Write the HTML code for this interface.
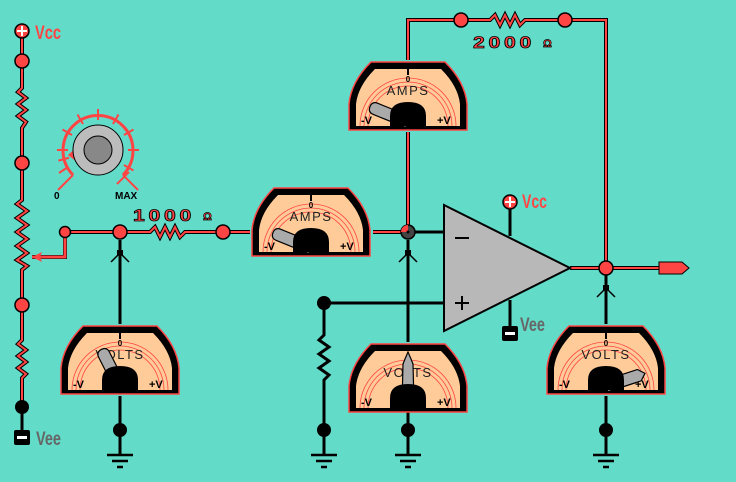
<!DOCTYPE html>
<html><head><meta charset="utf-8"><style>
html,body{margin:0;padding:0;background:#63dbc9;}
svg{display:block;}
text{font-family:"Liberation Sans",sans-serif;}
</style></head><body>
<svg width="736" height="482" viewBox="0 0 736 482" xmlns="http://www.w3.org/2000/svg">
<defs>
<clipPath id="mc"><path d="M9,66 L9,44 Q11,26 28,9 L94,9 Q111,26 113,44 L113,66 Z"/></clipPath>
</defs>
<rect width="736" height="482" fill="#63dbc9"/>

<g stroke="#000" stroke-width="3" fill="none">
<line x1="120" y1="240" x2="120" y2="324"/>
<line x1="120" y1="396" x2="120" y2="455"/>
<line x1="408" y1="240" x2="408" y2="342"/>
<line x1="408" y1="232" x2="444" y2="232"/>
<line x1="408" y1="412" x2="408" y2="455"/>
<line x1="606" y1="275" x2="606" y2="324"/>
<line x1="606" y1="396" x2="606" y2="455"/>
<line x1="324" y1="303" x2="444" y2="303"/>
<polyline points="324,303 324,335 319,340 329,347 319,354 329,361 319,368 329,375 324,380 324,455"/>
<line x1="510" y1="208" x2="510" y2="236"/>
<line x1="510" y1="300" x2="510" y2="326"/>
<line x1="22" y1="407" x2="22" y2="432"/>
</g>
<g stroke="#000" stroke-width="1.5" fill="none">
<path d="M111,262 L120,253 L129,262"/><path d="M399,262 L408,253 L417,262"/><path d="M597,297 L606,288 L615,297"/>
</g>
<g fill="#000"><rect x="117" y="250" width="6" height="5"/><rect x="405" y="250" width="6" height="5"/><rect x="603" y="285" width="6" height="5"/></g>

<g stroke="#000" stroke-width="2.5">
<g><line x1="107" y1="455" x2="133" y2="455"/><line x1="112" y1="461" x2="128" y2="461"/><line x1="117" y1="467" x2="123" y2="467"/></g>
<g><line x1="311" y1="455" x2="337" y2="455"/><line x1="316" y1="461" x2="332" y2="461"/><line x1="321" y1="467" x2="327" y2="467"/></g>
<g><line x1="395" y1="455" x2="421" y2="455"/><line x1="400" y1="461" x2="416" y2="461"/><line x1="405" y1="467" x2="411" y2="467"/></g>
<g><line x1="593" y1="455" x2="619" y2="455"/><line x1="598" y1="461" x2="614" y2="461"/><line x1="603" y1="467" x2="609" y2="467"/></g>
</g>

<g fill="none" stroke-linejoin="miter">
<g stroke="#000" stroke-width="4">
<polyline points="22,31 22,88 18,92 26,98 18,104 26,110 18,116 26,122 22,128 22,200 17,204 27,211 17,218 27,225 17,232 27,239 17,246 27,253 17,260 27,266 22,270 22,340 18,344 26,350 18,356 26,362 18,368 26,374 22,378 22,407"/>
<polyline points="65,232 150,232 155,227 160,237 165,227 170,237 175,227 180,237 185,232 250,232"/>
<line x1="373" y1="232" x2="408" y2="232"/>
<polyline points="408,60 408,20 490,20 495,15 500,25 505,15 510,25 515,15 520,25 525,20 606,20 606,268"/>
<line x1="408" y1="132" x2="408" y2="232"/>
<line x1="570" y1="268" x2="662" y2="268"/>
<polyline points="65,232 65,257 32,257"/>
</g>
<g stroke="#ff4444" stroke-width="2">
<polyline points="22,31 22,88 18,92 26,98 18,104 26,110 18,116 26,122 22,128 22,200 17,204 27,211 17,218 27,225 17,232 27,239 17,246 27,253 17,260 27,266 22,270 22,340 18,344 26,350 18,356 26,362 18,368 26,374 22,378 22,404"/>
<polyline points="65,232 150,232 155,227 160,237 165,227 170,237 175,227 180,237 185,232 250,232"/>
<line x1="373" y1="232" x2="406" y2="232"/>
<polyline points="408,60 408,20 490,20 495,15 500,25 505,15 510,25 515,15 520,25 525,20 606,20 606,268"/>
<line x1="408" y1="132" x2="408" y2="230"/>
<line x1="570" y1="268" x2="662" y2="268"/>
</g>
<polyline points="65,232 65,257 32,257" stroke="#ff4444" stroke-width="3"/>
<path d="M32,257 L42,252 L40,257 L42,262 Z" fill="#ff4444"/>
</g>

<path d="M659,262 L682,262 L689,268 L682,274 L659,274 Z" fill="#ff4444" stroke="#000" stroke-width="1"/>

<g fill="#ff4444" stroke="#000" stroke-width="1.5">
<circle cx="22" cy="61" r="7"/><circle cx="22" cy="163" r="7"/><circle cx="22" cy="305" r="7"/>
<circle cx="65" cy="232" r="5.5"/><circle cx="120" cy="232" r="7"/><circle cx="223" cy="232" r="7"/>
<circle cx="461" cy="20" r="7"/><circle cx="565" cy="20" r="7"/><circle cx="606" cy="268" r="7"/>
</g>
<circle cx="408" cy="232" r="7" fill="#444" stroke="#000" stroke-width="1.5"/>
<path d="M401,232 A7,7 0 0 1 408,225 L408,232 Z" fill="#ff4444"/>
<circle cx="408" cy="232" r="1.5" fill="#000"/>
<g fill="#000">
<circle cx="22" cy="407" r="7"/><circle cx="120" cy="430" r="7"/><circle cx="324" cy="303" r="7"/>
<circle cx="324" cy="430" r="7"/><circle cx="408" cy="430" r="7"/><circle cx="606" cy="430" r="7"/>
</g>

<g>
<circle cx="22" cy="31" r="7" fill="#ff4444" stroke="#000" stroke-width="1.5"/>
<path d="M17,31 H27 M22,26 V36" stroke="#fff" stroke-width="2"/>
<text x="35" y="39" fill="#ff4444" font-size="19" font-weight="bold" textLength="26" lengthAdjust="spacingAndGlyphs">Vcc</text>
<rect x="14" y="430" width="16" height="15" rx="2" fill="#000"/><rect x="17" y="436" width="10" height="3" fill="#fff"/>
<text x="36" y="445" fill="#666" font-size="19" font-weight="bold" textLength="25" lengthAdjust="spacingAndGlyphs">Vee</text>

<circle cx="510" cy="202" r="7" fill="#ff4444" stroke="#000" stroke-width="1.5"/>
<path d="M505,202 H515 M510,197 V207" stroke="#fff" stroke-width="2"/>
<text x="522" y="208" fill="#ff4444" font-size="19" font-weight="bold" textLength="25" lengthAdjust="spacingAndGlyphs">Vcc</text>
<rect x="502" y="326" width="16" height="15" rx="2" fill="#000"/><rect x="505" y="332" width="10" height="3" fill="#fff"/>
<text x="520" y="331" fill="#666" font-size="19" font-weight="bold" textLength="25" lengthAdjust="spacingAndGlyphs">Vee</text>
</g>

<path d="M444,205 L570,268 L444,331 Z" fill="#b8b8b8" stroke="#000" stroke-width="2"/>
<path d="M455,238 H469 M455,303 H469 M462,296 V310" stroke="#000" stroke-width="2"/>

<g font-size="17" font-weight="bold" fill="#ff4444" stroke="#000" stroke-width="0.8" letter-spacing="3">
<text x="133" y="221" textLength="62" lengthAdjust="spacingAndGlyphs">1000</text>
<text x="473" y="48" textLength="62" lengthAdjust="spacingAndGlyphs">2000</text>
</g>
<g fill="#ff4444" stroke="#000" stroke-width="0.7" font-size="11" font-weight="bold">
<text x="203" y="220">Ω</text><text x="543" y="47">Ω</text>
</g>

<!-- knob -->
<g>
<path d="M73,175 A35,35 0 1 1 123,175" fill="none" stroke="#ff4444" stroke-width="3"/>
<g stroke="#ff4444" stroke-width="2" transform="translate(98,150)">
<line x1="-30" y1="17" x2="-39" y2="23" transform="rotate(0)"/>
<line x1="-30" y1="0" x2="-41" y2="0"/>
<line x1="-30" y1="0" x2="-41" y2="0" transform="rotate(30)"/>
<line x1="-30" y1="0" x2="-41" y2="0" transform="rotate(60)"/>
<line x1="-30" y1="0" x2="-41" y2="0" transform="rotate(90)"/>
<line x1="-30" y1="0" x2="-41" y2="0" transform="rotate(120)"/>
<line x1="-30" y1="0" x2="-41" y2="0" transform="rotate(150)"/>
<line x1="-30" y1="0" x2="-41" y2="0" transform="rotate(180)"/>
<line x1="-30" y1="0" x2="-41" y2="0" transform="rotate(210)"/>
<line x1="-30" y1="0" x2="-41" y2="0" transform="rotate(-15)"/>
</g>
<g stroke="#ff4444" stroke-width="2">
<line x1="58" y1="190" x2="73" y2="175"/><line x1="138" y1="190" x2="123" y2="175"/>
<line x1="117" y1="184" x2="129" y2="172"/>
</g>
<path d="M68,155 L80,144 L82,166 Z" fill="#ff4444"/>
<circle cx="98" cy="150" r="25" fill="#bcbcbc" stroke="#000" stroke-width="1"/>
<circle cx="98" cy="150" r="14" fill="#888" stroke="#000" stroke-width="1"/>
<text x="54" y="199" font-size="10" font-weight="bold" fill="#000">0</text>
<text x="115" y="199" font-size="10" font-weight="bold" fill="#000">MAX</text>
</g>

<!-- meters -->
<g transform="translate(347,60)">
<path d="M2,70 L2,44 Q4,22 24,2 L98,2 Q118,22 120,44 L120,70 Z" fill="#000" stroke="#ff4444" stroke-width="1.5"/>
<path d="M9,66 L9,44 Q11,26 28,9 L94,9 Q111,26 113,44 L113,66 Z" fill="#ffcc99"/>
<g clip-path="url(#mc)" fill="none" stroke="#ff4444" stroke-width="0.8"><circle cx="61" cy="66" r="40"/><circle cx="61" cy="66" r="44"/><circle cx="61" cy="66" r="48"/></g>
<rect x="60" y="8" width="2" height="7" fill="#000"/><text x="61" y="22" font-size="8" text-anchor="middle" font-weight="bold">0</text>
<text x="61" y="35" font-size="13" text-anchor="middle" letter-spacing="1.5" fill="#222">AMPS</text>
<text x="14" y="64" font-size="11" font-weight="bold">-V</text><text x="90" y="64" font-size="11" font-weight="bold">+V</text>
<path d="M55,62 L55,27 Q55,21 61,21 Q67,21 67,27 L67,62 Z" fill="#aaa" stroke="#000" stroke-width="1.2" transform="rotate(-68,61,62)"/>
<path d="M43,66 L43,56 Q43,42 61,42 Q79,42 79,56 L79,66 Z" fill="#000"/>
</g>
<g transform="translate(250,186)">
<path d="M2,70 L2,44 Q4,22 24,2 L98,2 Q118,22 120,44 L120,70 Z" fill="#000" stroke="#ff4444" stroke-width="1.5"/>
<path d="M9,66 L9,44 Q11,26 28,9 L94,9 Q111,26 113,44 L113,66 Z" fill="#ffcc99"/>
<g clip-path="url(#mc)" fill="none" stroke="#ff4444" stroke-width="0.8"><circle cx="61" cy="66" r="40"/><circle cx="61" cy="66" r="44"/><circle cx="61" cy="66" r="48"/></g>
<rect x="60" y="8" width="2" height="7" fill="#000"/><text x="61" y="22" font-size="8" text-anchor="middle" font-weight="bold">0</text>
<text x="61" y="35" font-size="13" text-anchor="middle" letter-spacing="1.5" fill="#222">AMPS</text>
<text x="14" y="64" font-size="11" font-weight="bold">-V</text><text x="90" y="64" font-size="11" font-weight="bold">+V</text>
<path d="M55,62 L55,27 Q55,21 61,21 Q67,21 67,27 L67,62 Z" fill="#aaa" stroke="#000" stroke-width="1.2" transform="rotate(-68,61,62)"/>
<path d="M43,66 L43,56 Q43,42 61,42 Q79,42 79,56 L79,66 Z" fill="#000"/>
</g>
<g transform="translate(59,324)">
<path d="M2,70 L2,44 Q4,22 24,2 L98,2 Q118,22 120,44 L120,70 Z" fill="#000" stroke="#ff4444" stroke-width="1.5"/>
<path d="M9,66 L9,44 Q11,26 28,9 L94,9 Q111,26 113,44 L113,66 Z" fill="#ffcc99"/>
<g clip-path="url(#mc)" fill="none" stroke="#ff4444" stroke-width="0.8"><circle cx="61" cy="66" r="40"/><circle cx="61" cy="66" r="44"/><circle cx="61" cy="66" r="48"/></g>
<rect x="60" y="8" width="2" height="7" fill="#000"/><text x="61" y="22" font-size="8" text-anchor="middle" font-weight="bold">0</text>
<text x="61" y="35" font-size="13" text-anchor="middle" letter-spacing="1.5" fill="#222">VOLTS</text>
<text x="14" y="64" font-size="11" font-weight="bold">-V</text><text x="90" y="64" font-size="11" font-weight="bold">+V</text>
<path d="M55,62 L55,27 Q55,21 61,21 Q67,21 67,27 L67,62 Z" fill="#aaa" stroke="#000" stroke-width="1.2" transform="rotate(-27,61,62)"/>
<path d="M43,66 L43,56 Q43,42 61,42 Q79,42 79,56 L79,66 Z" fill="#000"/>
</g>
<g transform="translate(347,342)">
<path d="M2,70 L2,44 Q4,22 24,2 L98,2 Q118,22 120,44 L120,70 Z" fill="#000" stroke="#ff4444" stroke-width="1.5"/>
<path d="M9,66 L9,44 Q11,26 28,9 L94,9 Q111,26 113,44 L113,66 Z" fill="#ffcc99"/>
<g clip-path="url(#mc)" fill="none" stroke="#ff4444" stroke-width="0.8"><circle cx="61" cy="66" r="40"/><circle cx="61" cy="66" r="44"/><circle cx="61" cy="66" r="48"/></g>
<text x="61" y="35" font-size="13" text-anchor="middle" letter-spacing="1.5" fill="#222">VOLTS</text>
<text x="14" y="64" font-size="11" font-weight="bold">-V</text><text x="90" y="64" font-size="11" font-weight="bold">+V</text>
<polygon points="55,62 56,22 58,17 61,10 64,17 66,22 67,62" fill="#aaa" stroke="#000" stroke-width="1.2"/>
<path d="M43,66 L43,56 Q43,42 61,42 Q79,42 79,56 L79,66 Z" fill="#000"/>
</g>
<g transform="translate(545,324)">
<path d="M2,70 L2,44 Q4,22 24,2 L98,2 Q118,22 120,44 L120,70 Z" fill="#000" stroke="#ff4444" stroke-width="1.5"/>
<path d="M9,66 L9,44 Q11,26 28,9 L94,9 Q111,26 113,44 L113,66 Z" fill="#ffcc99"/>
<g clip-path="url(#mc)" fill="none" stroke="#ff4444" stroke-width="0.8"><circle cx="61" cy="66" r="40"/><circle cx="61" cy="66" r="44"/><circle cx="61" cy="66" r="48"/></g>
<rect x="60" y="8" width="2" height="7" fill="#000"/><text x="61" y="22" font-size="8" text-anchor="middle" font-weight="bold">0</text>
<text x="61" y="35" font-size="13" text-anchor="middle" letter-spacing="1.5" fill="#222">VOLTS</text>
<text x="14" y="64" font-size="11" font-weight="bold">-V</text><text x="90" y="64" font-size="11" font-weight="bold">+V</text>
<path d="M55,62 L55,27 L61,21 L67,27 L67,62 Z" fill="#aaa" stroke="#000" stroke-width="1.2" transform="rotate(72,61,62)"/>
<path d="M43,66 L43,56 Q43,42 61,42 Q79,42 79,56 L79,66 Z" fill="#000"/>
</g>
</svg>
</body></html>
